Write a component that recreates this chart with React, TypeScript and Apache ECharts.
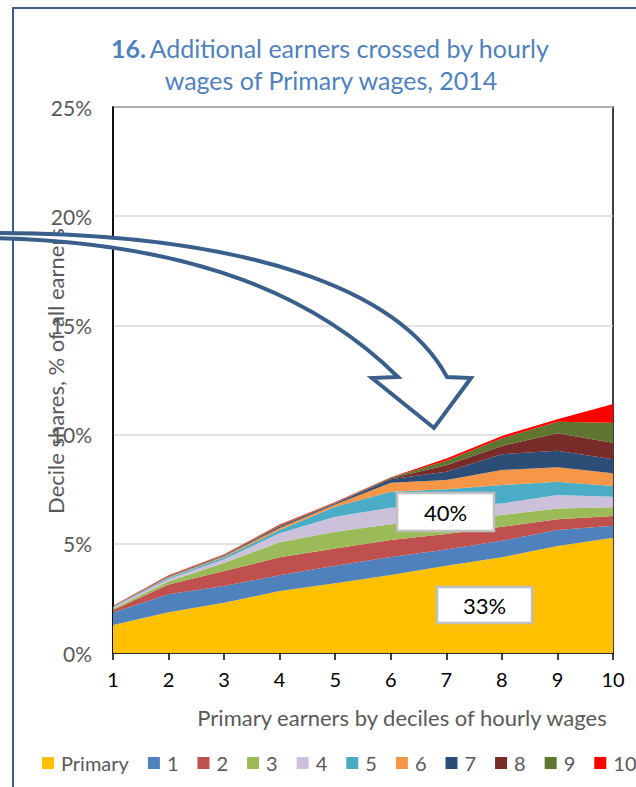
import React, { useEffect, useRef } from "react";
import * as echarts from "echarts";

const categories = ["1", "2", "3", "4", "5", "6", "7", "8", "9", "10"];
const seriesNames = ["Primary", "1", "2", "3", "4", "5", "6", "7", "8", "9", "10"];
const seriesColors = ["#FFC000", "#4F81BD", "#C0504D", "#9BBB59", "#CCC1DA", "#4BACC6", "#F79646", "#2C4D75", "#772C2A", "#5F7530", "#FF0000"];

const primary = [1.28, 1.87, 2.30, 2.84, 3.19, 3.57, 4.00, 4.38, 4.90, 5.28];
const add1 = [0.57, 0.82, 0.77, 0.72, 0.81, 0.83, 0.74, 0.76, 0.73, 0.55];
const add2 = [0.12, 0.45, 0.68, 0.82, 0.79, 0.77, 0.71, 0.64, 0.49, 0.44];
const add3 = [0.06, 0.13, 0.38, 0.69, 0.76, 0.73, 0.65, 0.54, 0.50, 0.40];
const add4 = [0.05, 0.12, 0.16, 0.41, 0.69, 0.75, 0.65, 0.53, 0.61, 0.49];
const add5 = [0.03, 0.06, 0.09, 0.15, 0.46, 0.73, 0.75, 0.84, 0.61, 0.49];
const add6 = [0.01, 0.03, 0.05, 0.09, 0.10, 0.42, 0.42, 0.69, 0.66, 0.58];
const add7 = [0.01, 0.02, 0.03, 0.06, 0.04, 0.15, 0.38, 0.72, 0.76, 0.64];
const add8 = [0.01, 0.02, 0.02, 0.04, 0.03, 0.05, 0.30, 0.38, 0.80, 0.76];
const add9 = [0.01, 0.02, 0.02, 0.03, 0.02, 0.03, 0.20, 0.35, 0.53, 0.91];
const add10 = [0.01, 0.02, 0.02, 0.03, 0.02, 0.02, 0.11, 0.11, 0.11, 0.86];
const seriesData = [primary, add1, add2, add3, add4, add5, add6, add7, add8, add9, add10];

const yTickMin = 0;
const yTickMax = 25;
const yTickStep = 5;

const titleBold = "16.";
const titleLine1 = "Additional earners crossed by hourly";
const titleLine2 = "wages of Primary wages, 2014";
const xAxisName = "Primary earners by deciles of hourly wages";
const yAxisName = "Decile shares, % of all earners";
const boxLabels = ["40%", "33%"];

const ARROW_D =
  "M -10 233 C 250 233 400 290 447 377 L 471 378 L 434 428 L 372 378 L 398 377 C 320 300 200 242 -10 238 Z";
echarts.graphic.registerShape("bigArrow", echarts.graphic.extendPath(ARROW_D, {}) as any);

const FONT = "Lato, 'Open Sans', sans-serif";

export default function App() {
  const ref = useRef<HTMLDivElement>(null);
  useEffect(() => {
    document.body.style.margin = "0";
    if (!ref.current) return;
    const chart = echarts.init(ref.current, undefined, { renderer: "svg" });
    const option: any = {
      animation: false,
      backgroundColor: "#fff",
      grid: {
        left: 113,
        top: 107,
        width: 500,
        height: 546,
        show: true,
        borderColor: "#000",
        borderWidth: 1.5,
      },
      legend: {
        data: seriesNames,
        left: 37,
        top: 748,
        width: 1200,
        icon: "rect",
        itemWidth: 12,
        itemHeight: 12,
        itemGap: 19,
        textStyle: { color: "#595959", fontSize: 20, fontFamily: FONT, padding: [0, 0, 0, 2] },
      },
      xAxis: {
        type: "category",
        data: categories,
        boundaryGap: false,
        axisLine: { show: true, lineStyle: { color: "#000", width: 1.5 } },
        axisTick: { show: true, length: 7, lineStyle: { color: "#000", width: 1.5 } },
        axisLabel: { color: "#000", fontSize: 20, fontFamily: FONT, margin: 16 },
        splitLine: { show: false },
      },
      yAxis: {
        type: "value",
        min: yTickMin,
        max: yTickMax,
        interval: yTickStep,
        axisLine: { show: true, lineStyle: { color: "#000", width: 1.5 } },
        axisTick: { show: false },
        axisLabel: { formatter: "{value}%", color: "#595959", fontSize: 21, fontFamily: FONT, margin: 21 },
        splitLine: { show: true, lineStyle: { color: "#D9D9D9", width: 1.5 } },
      },
      series: seriesNames.map((name, i) => ({
        name,
        type: "line",
        stack: "total",
        data: seriesData[i],
        showSymbol: false,
        symbol: "none",
        lineStyle: { width: 0 },
        areaStyle: { opacity: 1, color: seriesColors[i] },
        itemStyle: { color: seriesColors[i] },
        emphasis: { disabled: true },
      })),
      graphic: [
        {
          type: "polyline",
          shape: { points: [[13, 800], [13, 8], [700, 8]] },
          style: { stroke: "#3A5F8B", lineWidth: 2, fill: "none" },
          z: 50,
        },
        {
          type: "text",
          x: 330,
          y: 48,
          style: {
            text: `{b|${titleBold}} {n|${titleLine1}}`,
            align: "center",
            verticalAlign: "middle",
            textAlign: "center",
            textVerticalAlign: "middle",
            rich: {
              b: { fontWeight: "bold", fontSize: 25, fontFamily: FONT, fill: "#4F81BD", color: "#4F81BD" },
              n: { fontSize: 25, fontFamily: FONT, fill: "#4F81BD", color: "#4F81BD" },
            },
          },
          z: 50,
        },
        {
          type: "text",
          x: 331,
          y: 80,
          style: {
            text: titleLine2,
            font: `25px ${FONT}`,
            fill: "#4F81BD",
            align: "center",
            verticalAlign: "middle",
            textAlign: "center",
            textVerticalAlign: "middle",
          },
          z: 50,
        },
        {
          type: "text",
          x: 402,
          y: 717,
          style: {
            text: xAxisName,
            font: `22px ${FONT}`,
            fill: "#595959",
            align: "center",
            verticalAlign: "middle",
            textAlign: "center",
            textVerticalAlign: "middle",
          },
          z: 50,
        },
        {
          type: "text",
          x: 55,
          y: 371,
          rotation: Math.PI / 2,
          style: {
            text: yAxisName,
            font: `22px ${FONT}`,
            fill: "#595959",
            align: "center",
            verticalAlign: "middle",
            textAlign: "center",
            textVerticalAlign: "middle",
          },
          z: 50,
        },
        {
          type: "rect",
          shape: { x: 397, y: 493, width: 97, height: 38 },
          style: { fill: "#fff", stroke: "#BFBFBF", lineWidth: 2.5 },
          z: 60,
        },
        {
          type: "text",
          x: 445.5,
          y: 512,
          style: {
            text: boxLabels[0],
            font: `22px ${FONT}`,
            fill: "#000",
            align: "center",
            verticalAlign: "middle",
            textAlign: "center",
            textVerticalAlign: "middle",
          },
          z: 61,
        },
        {
          type: "rect",
          shape: { x: 437, y: 587, width: 95, height: 36 },
          style: { fill: "#fff", stroke: "#BFBFBF", lineWidth: 2.5 },
          z: 60,
        },
        {
          type: "text",
          x: 484.5,
          y: 605,
          style: {
            text: boxLabels[1],
            font: `22px ${FONT}`,
            fill: "#000",
            align: "center",
            verticalAlign: "middle",
            textAlign: "center",
            textVerticalAlign: "middle",
          },
          z: 61,
        },
        {
          type: "bigArrow",
          x: 0,
          y: 0,
          scaleX: 1,
          scaleY: 1,
          style: { fill: "#fff", stroke: "#3A5F8B", lineWidth: 4, lineJoin: "miter" },
          z: 100,
        },
      ],
    };
    chart.setOption(option);
    return () => chart.dispose();
  }, []);
  return <div ref={ref} style={{ width: 636, height: 787 }} />;
}
